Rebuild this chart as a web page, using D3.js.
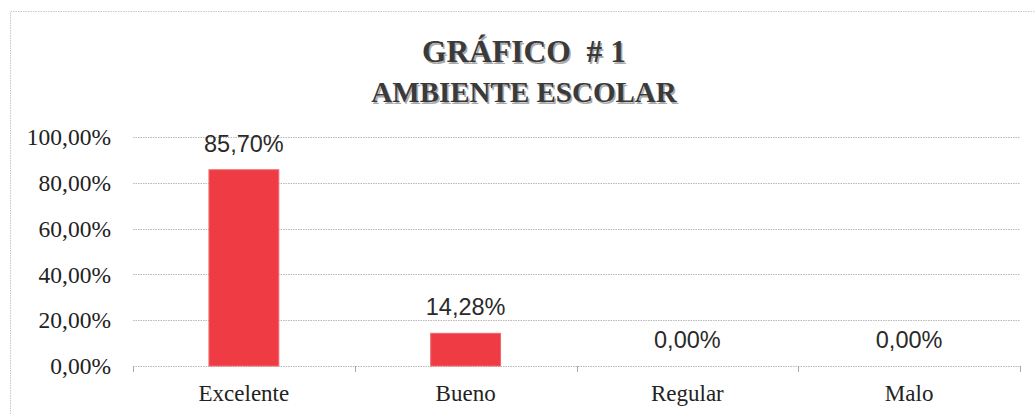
<!DOCTYPE html>
<html><head><meta charset="utf-8">
<script src="https://cdn.jsdelivr.net/npm/d3@7"></script>
<style>
html,body{margin:0;padding:0;background:#fff;}
svg{display:block;}
</style></head>
<body>
<script>
const categories = ["Excelente", "Bueno", "Regular", "Malo"];
const values = [0.857, 0.1428, 0, 0];
const valueLabels = ["85,70%", "14,28%", "0,00%", "0,00%"];
const yTicks = [0, 0.2, 0.4, 0.6, 0.8, 1.0];
const yTickLabels = ["0,00%", "20,00%", "40,00%", "60,00%", "80,00%", "100,00%"];
const titleLines = ["GRÁFICO\u00a0\u00a0#\u00a01", "AMBIENTE ESCOLAR"];

const W = 1035, H = 414;
const svg = d3.select("body").append("svg").attr("width", W).attr("height", H);

// outer frame
svg.append("path").attr("d", `M10.5,${H} V11.5 H${W}`)
  .attr("fill", "none").attr("stroke", "#c8c8c8").attr("stroke-dasharray", "1.5,1");

const plot = {left: 133, right: 1020, top: 137, bottom: 366};
const x = d3.scaleBand().domain(categories).range([plot.left, plot.right]).paddingInner(0.685).paddingOuter(0.3425);
const xb = d3.scaleBand().domain(categories).range([plot.left, plot.right]);
const y = d3.scaleLinear().domain([0, 1]).range([plot.bottom, plot.top]);

// title
const tfont = "'Liberation Serif','Times New Roman',serif";
const tsizes = [31.5, 29], tys = [62, 102], tx = 524;
titleLines.forEach((t, i) => {
  svg.append("text").attr("x", tx + 1.5).attr("y", tys[i] + 1.5)
    .attr("text-anchor", "middle").attr("font-family", tfont).attr("font-weight", "bold")
    .attr("font-size", tsizes[i]).attr("fill", "#aaa").text(t);
  svg.append("text").attr("x", tx).attr("y", tys[i])
    .attr("text-anchor", "middle").attr("font-family", tfont).attr("font-weight", "bold")
    .attr("font-size", tsizes[i]).attr("fill", "#3a3a3a").text(t);
});

// gridlines
svg.append("g").selectAll("line").data(yTicks).join("line")
  .attr("x1", plot.left).attr("x2", plot.right)
  .attr("y1", d => Math.round(y(d)) + 0.5).attr("y2", d => Math.round(y(d)) + 0.5)
  .attr("stroke", "#b8b8b8").attr("stroke-dasharray", "1.5,1");

// y axis labels
const yAxis = d3.axisLeft(y).tickValues(yTicks).tickFormat((d, i) => yTickLabels[i]).tickSize(0).tickPadding(22);
const gy = svg.append("g").attr("transform", `translate(${plot.left},0)`).call(yAxis);
gy.select(".domain").remove();
gy.selectAll("text").attr("font-family", tfont).attr("font-size", 23.5).attr("fill", "#222").attr("dy", "0.33em");

// x axis
const bounds = categories.map(c => xb(c)).concat([plot.right]);
svg.append("g").selectAll("line").data(bounds).join("line")
  .attr("x1", d => Math.round(d) + 0.5).attr("x2", d => Math.round(d) + 0.5)
  .attr("y1", plot.bottom).attr("y2", plot.bottom + 6)
  .attr("stroke", "#aaa");
const xAxis = d3.axisBottom(x).tickSize(0).tickPadding(19);
const gx = svg.append("g").attr("transform", `translate(0,${plot.bottom})`).call(xAxis);
gx.select(".domain").remove();
gx.selectAll("text").attr("font-family", tfont).attr("font-size", 23).attr("fill", "#222");

// bars
svg.append("g").selectAll("rect").data(values).join("rect")
  .attr("x", (d, i) => x(categories[i]))
  .attr("width", x.bandwidth())
  .attr("y", d => y(d))
  .attr("height", d => y(0) - y(d))
  .attr("fill", "#ee3b44").attr("stroke", "#f0686d").attr("stroke-width", 1);

// value labels
svg.append("g").selectAll("text").data(values).join("text")
  .attr("x", (d, i) => x(categories[i]) + x.bandwidth()/2)
  .attr("y", d => y(d) - 18)
  .attr("text-anchor", "middle")
  .attr("font-family", "'Liberation Sans',Arial,sans-serif").attr("font-size", 23.5).attr("fill", "#2a2a2a")
  .text((d, i) => valueLabels[i]);
</script>
</body></html>
